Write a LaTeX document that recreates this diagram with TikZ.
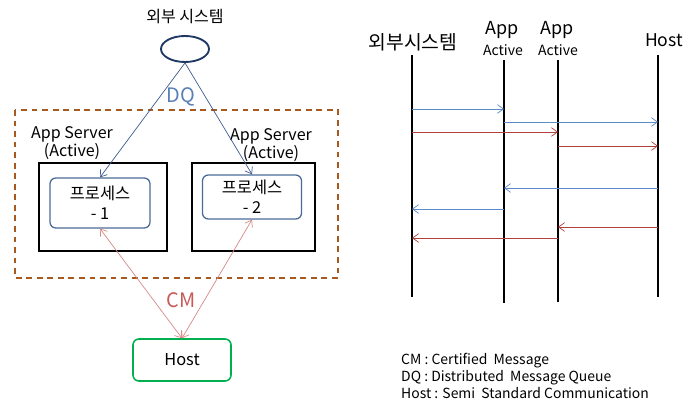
\documentclass[tikz,border=0pt]{standalone}
\usepackage{fontspec}
\setmainfont{Noto Sans CJK KR}
\usepackage{xcolor}
\usetikzlibrary{arrows.meta,positioning,shapes}

\definecolor{navy}{HTML}{1F3864}
\definecolor{dqline}{HTML}{3E5C8E}
\definecolor{dqtext}{HTML}{5A80B8}
\definecolor{cmline}{HTML}{D58A88}
\definecolor{cmtext}{HTML}{C85A57}
\definecolor{seqblue}{HTML}{5B8BC9}
\definecolor{seqred}{HTML}{B0403D}
\definecolor{brownd}{HTML}{A85A1E}
\definecolor{procb}{HTML}{4A6B96}
\definecolor{hostg}{HTML}{00B050}

\begin{document}
\begin{tikzpicture}[
    x=0.03cm, y=-0.03cm,
    lbl/.style={font=\fontsize{13.7}{15.5}\selectfont, align=center, inner sep=0pt},
    server/.style={draw=black, line width=1.4pt},
    proc/.style={draw=procb, line width=1.1pt, rounded corners=5pt, font=\fontsize{14}{17}\selectfont, align=center},
    dqarr/.style={-{Straight Barb[length=1.8mm, width=2.6mm]}, draw=dqline, line width=0.6pt},
    cmarr/.style={{Straight Barb[length=1.8mm, width=2.6mm]}-{Straight Barb[length=1.8mm, width=2.6mm]}, draw=cmline, line width=0.6pt},
    life/.style={line width=1.3pt},
    msgb/.style={-{Straight Barb[length=1.8mm, width=2.6mm]}, draw=seqblue, line width=0.6pt},
    msgr/.style={-{Straight Barb[length=1.8mm, width=2.6mm]}, draw=seqred, line width=0.6pt}
]
  \useasboundingbox (0,0) rectangle (699,403);

  % left: structure
  \node[lbl] (extT) at (185,17) {외부 시스템};
  \node[ellipse, draw=navy, line width=1.6pt, minimum width=48*0.03cm, minimum height=26*0.03cm, inner sep=0pt] (ext) at (185,49) {};

  \draw[brownd, line width=1.4pt, dash pattern=on 5pt off 4pt] (15,110) rectangle (338,278);

  \node[lbl] (appL) at (72,143) {App Server\\(Active)};
  \node[lbl] (appR) at (271,145) {App Server\\(Active)};

  \draw[server] (39,163) rectangle (167,251);
  \draw[server] (192,163) rectangle (315,251);

  \node[proc, minimum width=100*0.03cm, minimum height=50*0.03cm] (procL) at (100,203) {프로세스\\- 1};
  \node[proc, minimum width=99*0.03cm, minimum height=44*0.03cm] (procR) at (252,197) {프로세스\\- 2};

  \node[draw=hostg, line width=1.3pt, rounded corners=5pt, minimum width=98*0.03cm, minimum height=42*0.03cm, font=\fontsize{14}{16}\selectfont] (host) at (182,360) {Host};

  \draw[dqarr] (ext.south) -- (procL.north);
  \draw[dqarr] (ext.south) -- (procR.north);
  \node[lbl, text=dqtext, font=\fontsize{17}{18}\selectfont] (dqL) at (181,97) {DQ};

  \draw[cmarr] (procL.south) -- (host.north);
  \draw[cmarr] (procR.south) -- (host.north);
  \node[lbl, text=cmtext, font=\fontsize{17}{18}\selectfont] (cmL) at (181,300) {CM};

  % right: sequence
  \node[lbl, font=\fontsize{16.5}{18}\selectfont] (sExt) at (413,42) {외부시스템};
  \node[lbl, font=\fontsize{15.3}{16}\selectfont] (sA1) at (502,30) {App};
  \node[lbl, font=\fontsize{12}{13}\selectfont] (sA1b) at (503,50) {Active};
  \node[lbl, font=\fontsize{15.3}{16}\selectfont] (sA2) at (557,30) {App};
  \node[lbl, font=\fontsize{12}{13}\selectfont] (sA2b) at (558,50) {Active};
  \node[lbl, font=\fontsize{15}{16}\selectfont] (sHost) at (664,40) {Host};

  \coordinate (lExt) at (412,55);
  \coordinate (lA1) at (504,60);
  \coordinate (lA2) at (558,60);
  \coordinate (lHost) at (658,55);

  \draw[life] (lExt) -- (lExt |- 0,297);
  \draw[life] (lA1) -- (lA1 |- 0,303);
  \draw[life] (lA2) -- (lA2 |- 0,302);
  \draw[life] (lHost) -- (lHost |- 0,297);

  \draw[msgb] (lExt |- 0,109) -- (lA1 |- 0,109);
  \draw[msgb] (lA1 |- 0,122) -- (lHost |- 0,122);
  \draw[msgr] (lExt |- 0,132) -- (lA2 |- 0,132);
  \draw[msgr] (lA2 |- 0,146) -- (lHost |- 0,146);
  \draw[msgb] (lHost |- 0,188) -- (lA1 |- 0,188);
  \draw[msgb] (lA1 |- 0,209) -- (lExt |- 0,209);
  \draw[msgr] (lHost |- 0,227) -- (lA2 |- 0,227);
  \draw[msgr] (lA2 |- 0,238) -- (lExt |- 0,238);

  % legend
  \node[lbl, anchor=west, align=left, font=\fontsize{11.9}{14.5}\selectfont] (legend) at (401,376)
    {CM : Certified\ \ Message\\DQ : Distributed\ \ Message Queue\\Host : Semi\ \ Standard Communication};
\end{tikzpicture}
\end{document}
